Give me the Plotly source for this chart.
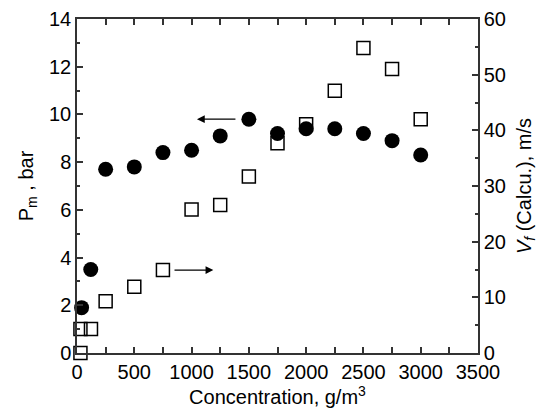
import plotly.graph_objects as go

# Data
pm_x = [40, 120, 250, 500, 750, 1000, 1250, 1500, 1750, 2000, 2250, 2500, 2750, 3000]
pm_y = [1.9, 3.5, 7.7, 7.8, 8.4, 8.5, 9.1, 9.8, 9.2, 9.4, 9.4, 9.2, 8.9, 8.3]

vf_x = [30, 30, 122, 250, 500, 750, 1000, 1250, 1500, 1750, 2000, 2250, 2500, 2750, 3000]
vf_y = [0.0, 4.3, 4.3, 9.3, 11.9, 14.9, 25.8, 26.6, 31.7, 37.7, 41.1, 47.1, 54.8, 51.0, 42.0]

x_ticks = [0, 500, 1000, 1500, 2000, 2500, 3000, 3500]
y1_ticks = [0, 2, 4, 6, 8, 10, 12, 14]
y2_ticks = [0, 10, 20, 30, 40, 50, 60]

FONT = "Liberation Sans, Arial, sans-serif"
AX = "#333333"

fig = go.Figure()
fig.add_trace(go.Scatter(x=pm_x, y=pm_y, mode="markers", yaxis="y", cliponaxis=False,
                         marker=dict(symbol="circle", size=15, color="black",
                                     line=dict(width=0)),
                         showlegend=False))
fig.add_trace(go.Scatter(x=vf_x, y=vf_y, mode="markers", yaxis="y2", cliponaxis=False,
                         marker=dict(symbol="square-open", size=13, color="black",
                                     line=dict(width=1.5)),
                         showlegend=False))

common = dict(showline=True, linecolor=AX, linewidth=1.5, ticks="inside",
              ticklen=6, tickwidth=1.5, tickcolor=AX, showgrid=False,
              zeroline=False, automargin=False,
              tickfont=dict(family=FONT, size=20, color="black"))

fig.update_layout(
    width=544, height=411,
    margin=dict(l=77, r=66, t=19, b=58),
    paper_bgcolor="white", plot_bgcolor="white",
    font=dict(family=FONT, color="black"),
    xaxis=dict(range=[0, 3500], tickvals=x_ticks, mirror="allticks",
               minor=dict(ticks="inside", ticklen=3, tickwidth=1.5, tickcolor=AX, dtick=250),
               title=dict(text="Concentration, g/m<sup>3</sup>", font=dict(size=20, family=FONT),
                          standoff=8),
               **common),
    yaxis=dict(range=[0, 14], tickvals=y1_ticks,
               minor=dict(ticks="inside", ticklen=3, tickwidth=1.5, tickcolor=AX, dtick=1),
               title=dict(text="P<sub>m</sub> , bar", font=dict(size=20, family=FONT),
                          standoff=10),
               **common),
    yaxis2=dict(range=[0, 60], tickvals=y2_ticks, overlaying="y", side="right",
                minor=dict(ticks="inside", ticklen=3, tickwidth=1.5, tickcolor=AX, dtick=5),
                title=dict(text="<i>V<sub>f</sub></i> (Calcu.), m/s", font=dict(size=20, family=FONT),
                           standoff=12),
                **common),
)

fig.add_annotation(x=1047, y=9.8, xref="x", yref="y", ax=1396, ay=9.8,
                   axref="x", ayref="y", showarrow=True, arrowhead=2,
                   arrowsize=1.2, arrowwidth=1.3, arrowcolor="black", text="")
fig.add_annotation(x=1190, y=14.9, xref="x", yref="y2", ax=838, ay=14.9,
                   axref="x", ayref="y2", showarrow=True, arrowhead=2,
                   arrowsize=1.2, arrowwidth=1.3, arrowcolor="black", text="")

fig.write_html("out.html")
